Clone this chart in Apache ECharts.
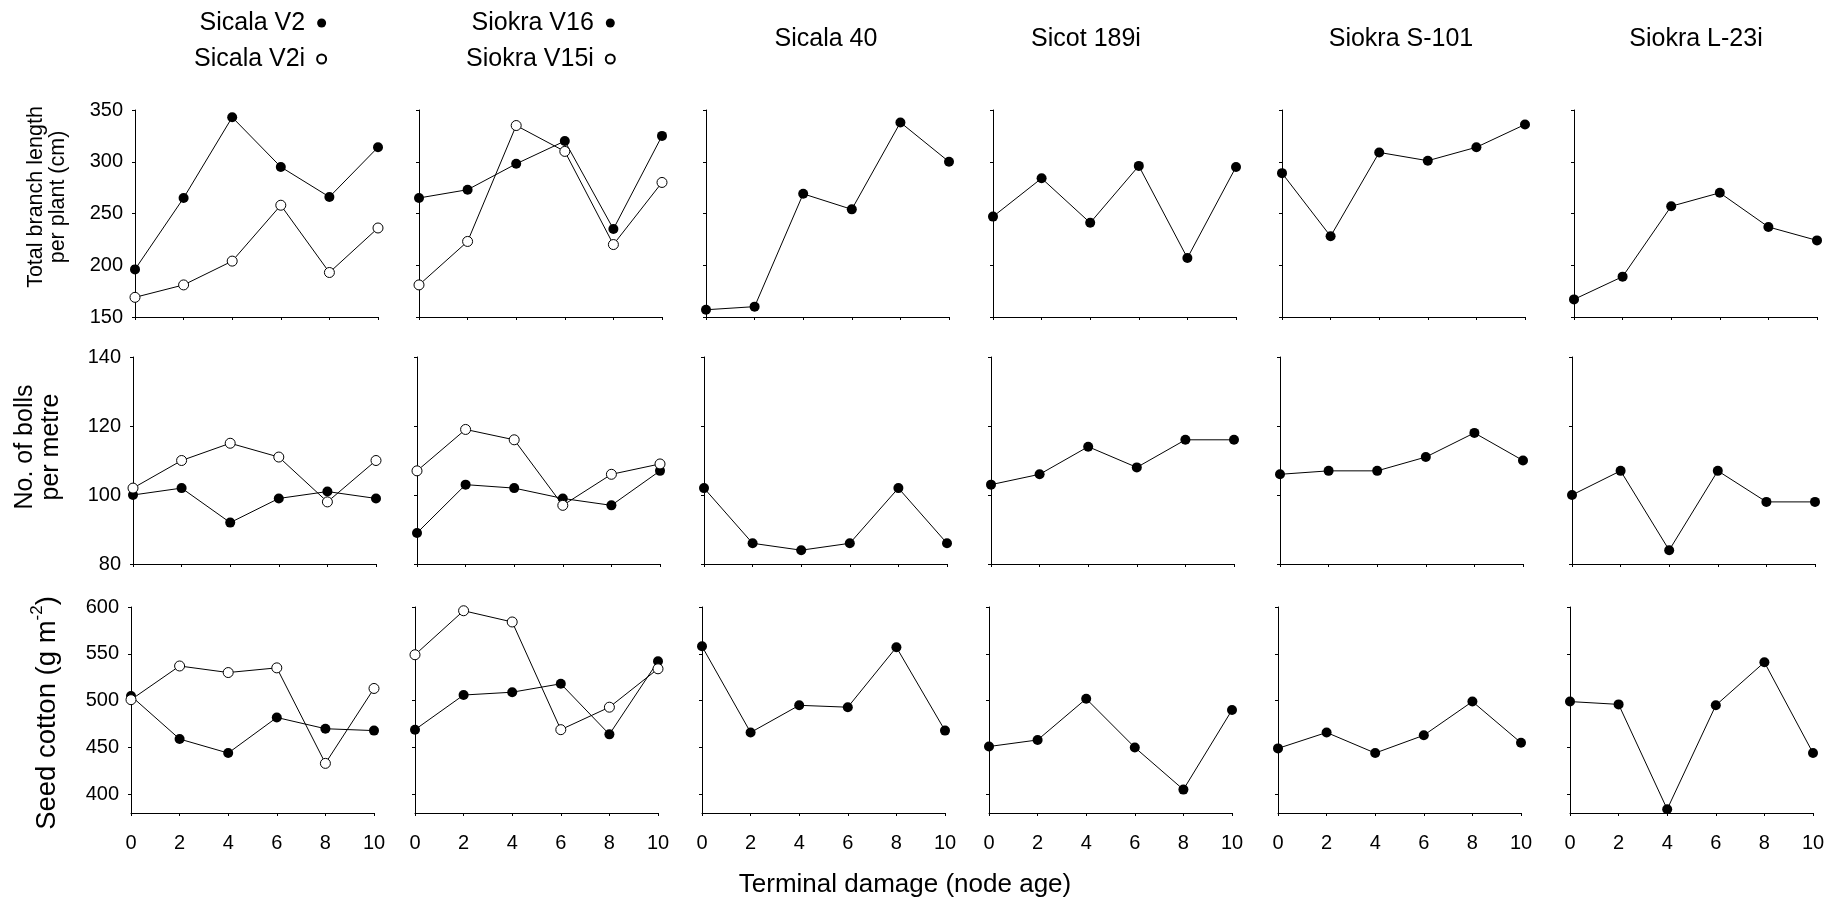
<!DOCTYPE html>
<html>
<head>
<meta charset="utf-8">
<script src="https://cdn.jsdelivr.net/npm/echarts@6/dist/echarts.min.js"></script>
<style>
html,body{margin:0;padding:0;background:#fff;}
#chart{width:1845px;height:901px;}
</style>
</head>
<body>
<div id="chart"></div>
<script>
// ---------- data ----------
const nodeAge = [0, 2, 4, 6, 8, 10];

// Row 1: Total branch length per plant (cm)
const branchSicalaV2   = [196, 265, 343, 295, 266, 314];
const branchSicalaV2i  = [169, 181, 204, 258, 193, 236];
const branchSiokraV16  = [265, 273, 298, 320, 235, 325];
const branchSiokraV15i = [181, 223, 335, 310, 220, 280];
const branchSicala40   = [157, 160, 269, 254, 338, 300];
const branchSicot189i  = [247, 284, 241, 296, 207, 295];
const branchSiokraS101 = [289, 228, 309, 301, 314, 336];
const branchSiokraL23i = [167, 189, 257, 270, 237, 224];

// Row 2: No. of bolls per metre
const bollsSicalaV2   = [100, 102, 92, 99, 101, 99];
const bollsSicalaV2i  = [102, 110, 115, 111, 98, 110];
const bollsSiokraV16  = [89, 103, 102, 99, 97, 107];
const bollsSiokraV15i = [107, 119, 116, 97, 106, 109];
const bollsSicala40   = [102, 86, 84, 86, 102, 86];
const bollsSicot189i  = [103, 106, 114, 108, 116, 116];
const bollsSiokraS101 = [106, 107, 107, 111, 118, 110];
const bollsSiokraL23i = [100, 107, 84, 107, 98, 98];

// Row 3: Seed cotton (g m-2)
const seedSicalaV2   = [505, 459, 444, 482, 470, 468];
const seedSicalaV2i  = [501, 537, 530, 535, 433, 513];
const seedSiokraV16  = [469, 506, 509, 518, 464, 542];
const seedSiokraV15i = [549, 596, 584, 469, 493, 534];
const seedSicala40   = [558, 466, 495, 493, 557, 468];
const seedSicot189i  = [451, 458, 502, 450, 405, 490];
const seedSiokraS101 = [449, 466, 444, 463, 499, 455];
const seedSiokraL23i = [499, 496, 384, 495, 541, 444];

const xTickValues = [0, 2, 4, 6, 8, 10];
const branchTicks = [150, 200, 250, 300, 350];
const bollsTicks = [80, 100, 120, 140];
const seedTicks = [400, 450, 500, 550, 600];

const panelTitles = ['Sicala 40', 'Sicot 189i', 'Siokra S-101', 'Siokra L-23i'];
const xAxisTitle = 'Terminal damage (node age)';

// ---------- layout ----------
const FONT = '"Liberation Sans", Arial, Helvetica, sans-serif';
const colLeft = [131, 415, 702, 989, 1278, 1570];
const rowShift = [4, 2, 0];
const panelW = 243;
const rowTop = [110, 357, 607];
const rowH = [207, 207, 206];
const titleX = [826, 1086, 1401, 1696];

const rows = [
  { min: 150, max: 350, ticks: branchTicks, panels: [
      [['Sicala V2', branchSicalaV2, true], ['Sicala V2i', branchSicalaV2i, false]],
      [['Siokra V16', branchSiokraV16, true], ['Siokra V15i', branchSiokraV15i, false]],
      [['Sicala 40', branchSicala40, true]],
      [['Sicot 189i', branchSicot189i, true]],
      [['Siokra S-101', branchSiokraS101, true]],
      [['Siokra L-23i', branchSiokraL23i, true]] ] },
  { min: 80, max: 140, ticks: bollsTicks, panels: [
      [['Sicala V2', bollsSicalaV2, true], ['Sicala V2i', bollsSicalaV2i, false]],
      [['Siokra V16', bollsSiokraV16, true], ['Siokra V15i', bollsSiokraV15i, false]],
      [['Sicala 40', bollsSicala40, true]],
      [['Sicot 189i', bollsSicot189i, true]],
      [['Siokra S-101', bollsSiokraS101, true]],
      [['Siokra L-23i', bollsSiokraL23i, true]] ] },
  { min: 380, max: 600, ticks: seedTicks, panels: [
      [['Sicala V2', seedSicalaV2, true], ['Sicala V2i', seedSicalaV2i, false]],
      [['Siokra V16', seedSiokraV16, true], ['Siokra V15i', seedSiokraV15i, false]],
      [['Sicala 40', seedSicala40, true]],
      [['Sicot 189i', seedSicot189i, true]],
      [['Siokra S-101', seedSiokraS101, true]],
      [['Siokra L-23i', seedSiokraL23i, true]] ] }
];

const grids = [], xAxes = [], yAxes = [], series = [];
rows.forEach((row, r) => {
  for (let c = 0; c < 6; c++) {
    const gi = r * 6 + c;
    grids.push({ left: colLeft[c] + rowShift[r], top: rowTop[r], width: panelW, height: rowH[r],
                 containLabel: false, outerBoundsMode: 'none' });
    xAxes.push({
      gridIndex: gi, type: 'value', min: 0, max: 10, interval: 2,
      axisLine: { show: true, onZero: false, lineStyle: { color: '#000', width: 1 } },
      axisTick: { show: true, inside: false, length: 3, lineStyle: { color: '#000', width: 1 } },
      axisLabel: { show: r === 2, fontSize: 20, color: '#000', margin: 20, fontFamily: FONT,
                   customValues: xTickValues },
      splitLine: { show: false }
    });
    yAxes.push({
      gridIndex: gi, type: 'value', min: row.min, max: row.max, interval: 10,
      axisLine: { show: true, onZero: false, lineStyle: { color: '#000', width: 1 } },
      axisTick: { show: true, inside: false, length: 3, lineStyle: { color: '#000', width: 1 },
                  customValues: row.ticks },
      axisLabel: { show: c === 0, fontSize: 20, color: '#000', margin: 12, fontFamily: FONT,
                   customValues: row.ticks },
      splitLine: { show: false }
    });
    row.panels[c].forEach(([name, vals, filled]) => {
      series.push({
        name: name, type: 'line', xAxisIndex: gi, yAxisIndex: gi,
        data: nodeAge.map((x, i) => [x, vals[i]]),
        symbol: 'circle', symbolSize: 10, showSymbol: true,
        lineStyle: { color: '#000', width: 1 },
        itemStyle: filled ? { color: '#000', borderColor: '#000', borderWidth: 0 }
                          : { color: '#fff', borderColor: '#000', borderWidth: 1 },
        z: filled ? 2 : 3,
        emphasis: { disabled: true },
        animation: false
      });
    });
  }
});

const graphics = [];
panelTitles.forEach((t, i) => {
  graphics.push({ type: 'text', x: titleX[i], y: 39,
    style: { text: t, fill: '#000', fontSize: 25, fontFamily: FONT,
             align: 'center', textAlign: 'center', verticalAlign: 'middle', textVerticalAlign: 'middle' } });
});
graphics.push({ type: 'text', x: 47, y: 197, rotation: Math.PI / 2,
  style: { text: 'Total branch length\nper plant (cm)', fill: '#000', fontSize: 21.5, lineHeight: 22,
           fontFamily: FONT, align: 'center', textAlign: 'center', verticalAlign: 'middle', textVerticalAlign: 'middle' } });
graphics.push({ type: 'text', x: 38, y: 447, rotation: Math.PI / 2,
  style: { text: 'No. of bolls\nper metre', fill: '#000', fontSize: 25, lineHeight: 26,
           fontFamily: FONT, align: 'center', textAlign: 'center', verticalAlign: 'middle', textVerticalAlign: 'middle' } });
graphics.push({ type: 'text', x: 45, y: 713, rotation: Math.PI / 2,
  style: { text: '{a|Seed cotton (g m}{s|-2}{a|)}', fill: '#000', fontFamily: FONT,
           align: 'center', textAlign: 'center', verticalAlign: 'middle', textVerticalAlign: 'middle',
           rich: { a: { fontSize: 27.5, lineHeight: 33, fontFamily: FONT, fill: '#000', verticalAlign: 'bottom' },
                   s: { fontSize: 17, lineHeight: 33, fontFamily: FONT, fill: '#000', verticalAlign: 'top' } } } });
graphics.push({ type: 'text', x: 905, y: 885,
  style: { text: xAxisTitle, fill: '#000', fontSize: 26, fontFamily: FONT,
           align: 'center', textAlign: 'center', verticalAlign: 'middle', textVerticalAlign: 'middle' } });

const legendCommon = { orient: 'vertical', align: 'right', icon: 'circle', itemWidth: 9, itemHeight: 9,
  itemGap: 6, padding: 0, selectedMode: false, formatter: n => n + ' ',
  textStyle: { fontSize: 25, lineHeight: 30, color: '#000', fontFamily: FONT } };

const option = {
  animation: false,
  backgroundColor: '#fff',
  textStyle: { fontFamily: FONT },
  grid: grids, xAxis: xAxes, yAxis: yAxes, series: series,
  legend: [
    Object.assign({ data: ['Sicala V2', 'Sicala V2i'], left: 194, top: 8 }, legendCommon),
    Object.assign({ data: ['Siokra V16', 'Siokra V15i'], left: 466, top: 8 }, legendCommon)
  ],
  graphic: graphics
};
const chart = echarts.init(document.getElementById('chart'), null, { renderer: 'canvas' });
chart.setOption(option);
</script>
</body>
</html>
